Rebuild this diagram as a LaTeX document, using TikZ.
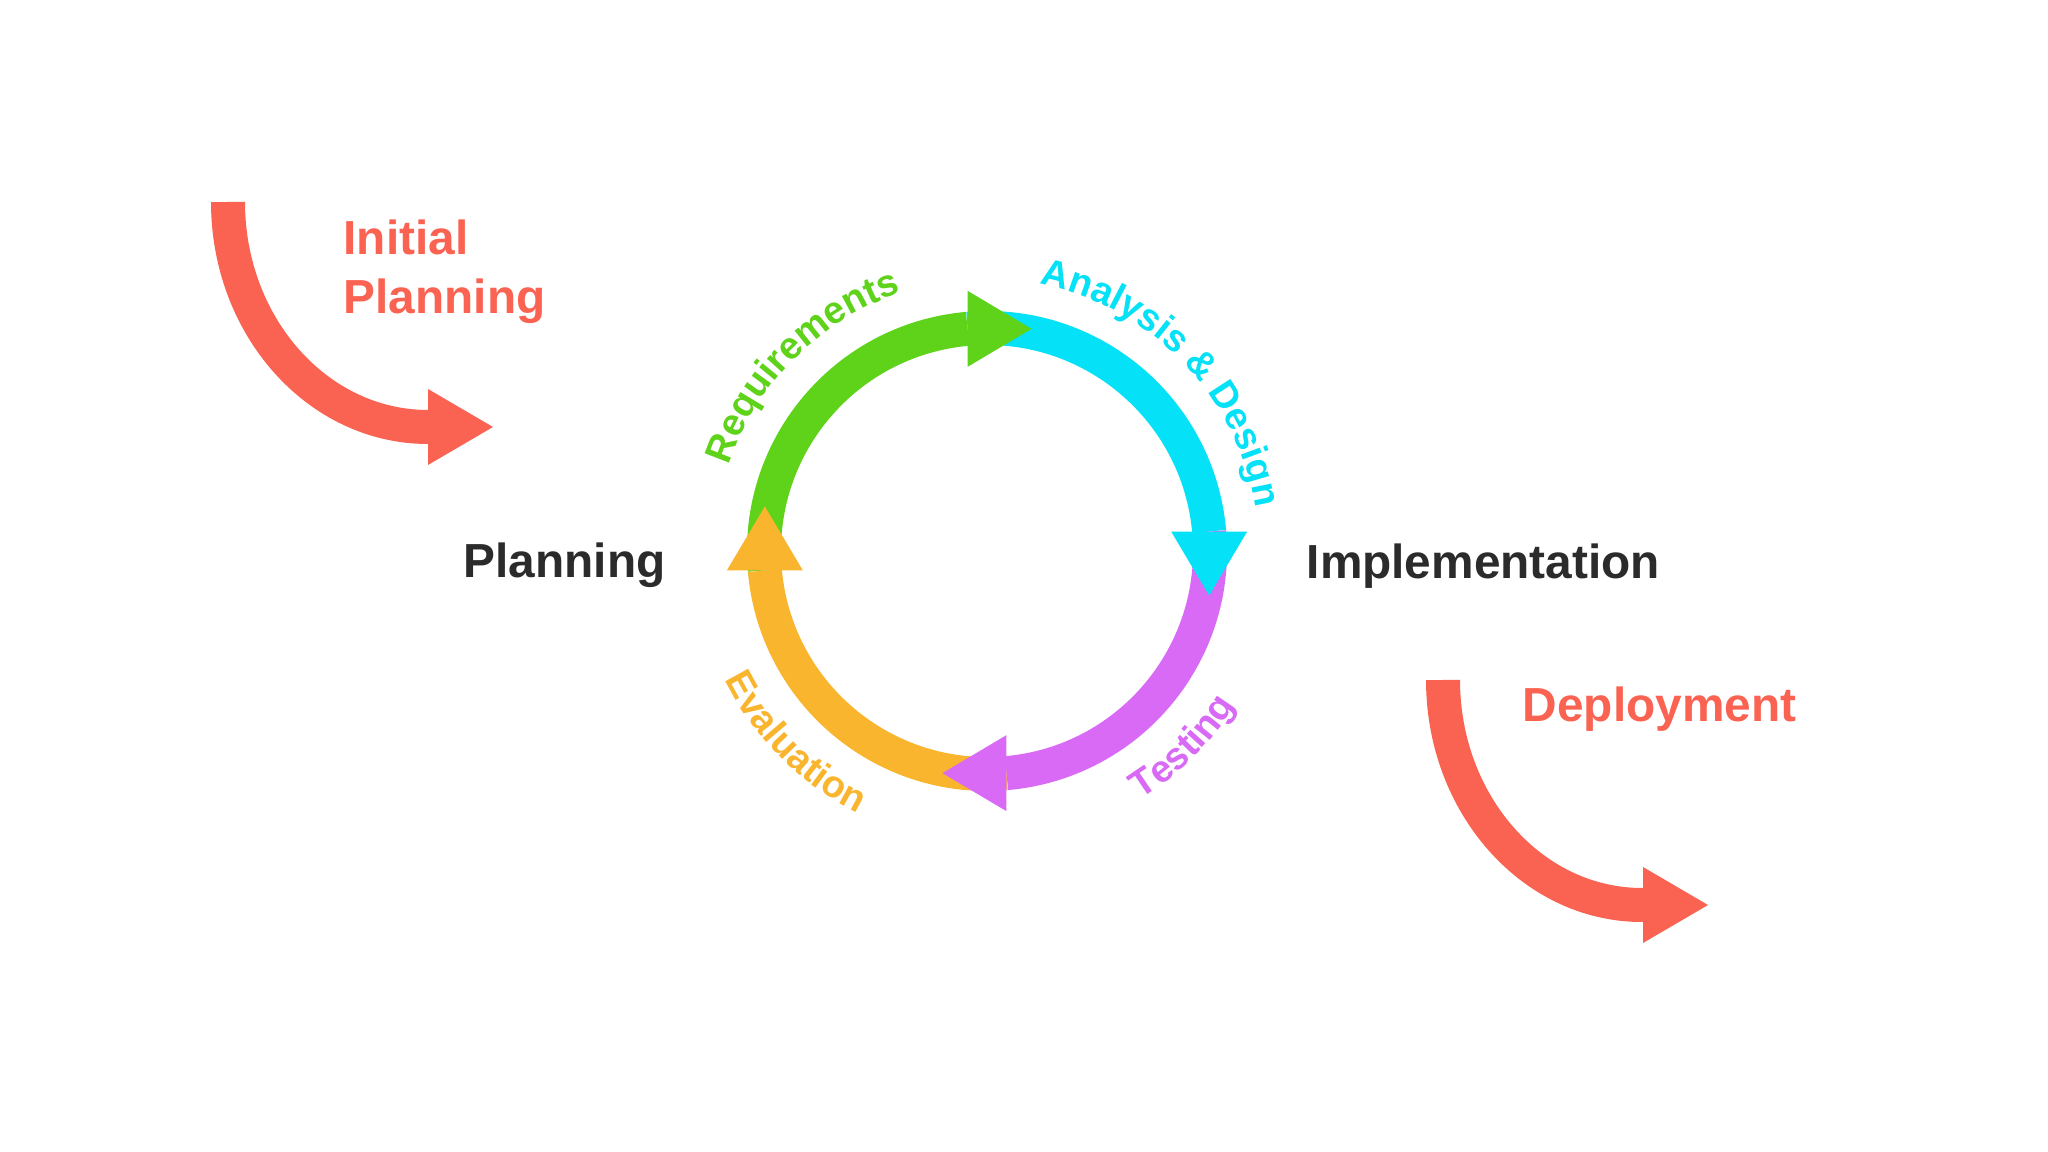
\documentclass[tikz,border=0pt]{standalone}
\usepackage{fontspec}
\setmainfont{Liberation Sans}
\usetikzlibrary{arrows.meta,decorations.text}

\definecolor{phasered}{HTML}{FA6352}
\definecolor{reqgreen}{HTML}{5FD21A}
\definecolor{designcyan}{HTML}{05E1F6}
\definecolor{testpurple}{HTML}{D86AF5}
\definecolor{evalorange}{HTML}{FAB52F}
\definecolor{phaseink}{HTML}{2B2B2B}

\newcommand\phasefont{\fontsize{13.6pt}{17pt}\selectfont\bfseries}
\newcommand\arcfont{\fontsize{10.8pt}{12pt}\selectfont\bfseries}

\begin{document}
\begin{tikzpicture}[
  x=0.1mm,
  y=-0.1mm,
  line join=round,
  ring/.style={line width=3.4mm},
  head/.style={line width=3.4mm,-{Triangle[length=6.4mm,width=7.6mm,line width=0pt]}},
  bigarrow/.style={draw=phasered,line width=3.4mm,-{Triangle[length=6.5mm,width=7.6mm,line width=0pt]}},
  phase/.style={font=\phasefont,inner sep=0pt,anchor=base west},
  arclabel/.style={decorate,decoration={text along path,text align=center,text color=#1}}
]
  % Page frame, measured in pixels of the reference (y points down).
  \fill[white] (0,0) rectangle (2048,1152);
  \useasboundingbox (0,0) rectangle (2048,1152);

  % Cycle centre; angles grow clockwise on the page.
  \coordinate (O) at (987,551);
  \def\rmid{223}

  % Ring bodies first.
  \foreach \col/\a in {reqgreen/175,designcyan/265,testpurple/355,evalorange/85} {
    \draw[ring,draw=\col] (O) ++(\a:\rmid) arc[start angle=\a,end angle=\a+90,radius=\rmid];
  }
  % Heads go on top of the next body.
  \foreach \col/\a in {reqgreen/175,designcyan/265,testpurple/355,evalorange/85} {
    \draw[head,draw=\col] (O) ++(\a+90:\rmid) -- ++(\a+185:64);
  }

  % Phase names along the ring.
  \path[arclabel=reqgreen,decoration={text={|\arcfont|Requirements}}]
    (O) ++(180:272) arc[start angle=180,end angle=270,radius=272];
  \path[arclabel=designcyan,decoration={text={|\arcfont|Analysis {\&} Design}}]
    (O) ++(271:272) arc[start angle=271,end angle=361,radius=272];
  \path[arclabel=testpurple,decoration={text={|\arcfont|Testing}}]
    (O) ++(90:292) arc[start angle=90,end angle=0,radius=292];
  \path[arclabel=evalorange,decoration={text={|\arcfont|Evaluation}}]
    (O) ++(180:292) arc[start angle=180,end angle=90,radius=292];

  % Entry and exit arrows.
  \coordinate (initstart) at (228,202);
  \coordinate (deploystart) at (1443,680);
  \draw[bigarrow] (initstart) arc[start angle=180,end angle=90,x radius=200,y radius=225] -- ++(65,0);
  \draw[bigarrow] (deploystart) arc[start angle=180,end angle=90,x radius=199,y radius=225] -- ++(66,0);

  % Stage labels (a two-line node sits on its last baseline).
  \node[phase,text=phasered,align=left] (initial) at (343,314) {Initial\\Planning};
  \node[phase,text=phaseink] (planning) at (463,578) {Planning};
  \node[phase,text=phaseink] (implementation) at (1306,579) {Implementation};
  \node[phase,text=phasered] (deployment) at (1522,722) {Deployment};
\end{tikzpicture}
\end{document}
